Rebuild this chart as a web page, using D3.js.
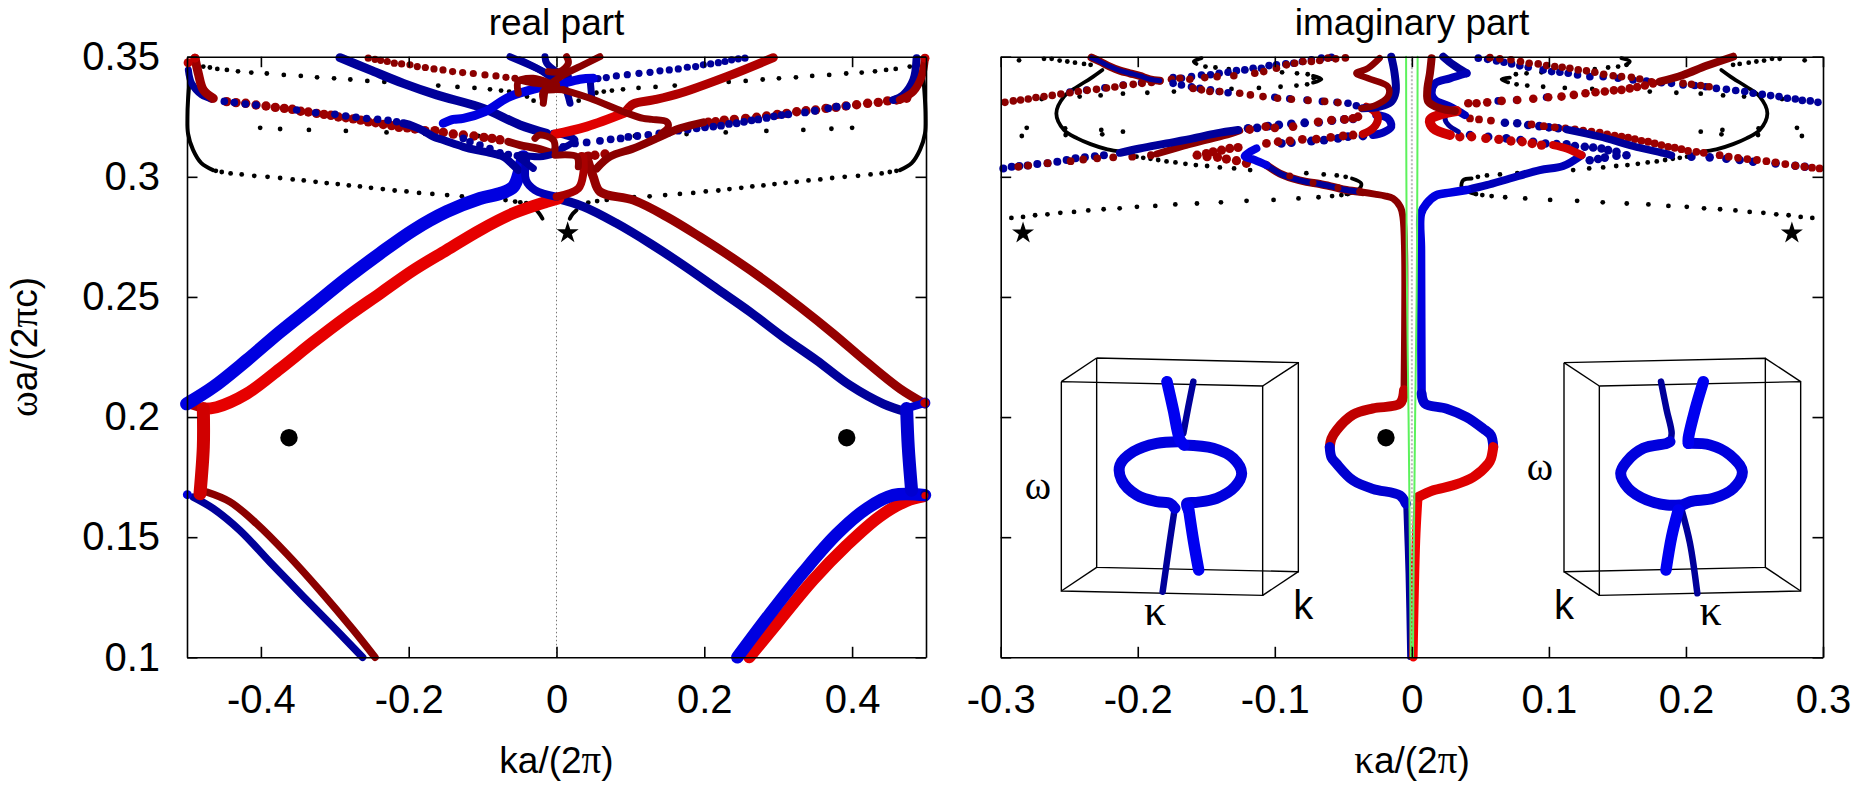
<!DOCTYPE html>
<html lang="en">
<head>
<meta charset="UTF-8">
<title>real and imaginary part</title>
<script src="https://d3js.org/d3.v7.min.js"></script>
<style>
  html, body { margin: 0; padding: 0; background: #fff; }
  svg { display: block; }
  text { font-family: "Liberation Sans", sans-serif; fill: #000; }
  .greek { font-family: "Liberation Serif", serif; }
</style>
</head>
<body>
<svg id="chart" width="1856" height="785"></svg>
<script>
// tick labels
const realKTicks = [-0.4, -0.2, 0, 0.2, 0.4];
const imagKTicks = [-0.3, -0.2, -0.1, 0, 0.1, 0.2, 0.3];
const omegaTicks = [0.1, 0.15, 0.2, 0.25, 0.3, 0.35];

// ---------- left panel, [ka/2pi, wa/2pic]
const realBlackLow = [[-.461,.3025],[-.453,.302],[-.441,.3014],[-.426,.301],[-.409,.3004],[-.391,.3],[-.374,.2995],[-.357,.2989],[-.342,.2985],[-.326,.2979],[-.311,.2974],[-.296,.297],[-.281,.2964],[-.266,.296],[-.251,.2954],[-.235,.2949],[-.219,.2943],[-.203,.2939],[-.186,.2933],[-.168,.2929],[-.148,.2924],[-.128,.2919],[-.107,.2915],[-.069,.2903],[-.056,.2897],[-.049,.2894],[-.041,.289],[-.034,.2879],
  [.033,.2879],[.043,.2893],[.055,.2899],[.068,.2904],[.105,.2915],[.126,.2919],[.147,.2924],[.167,.2929],[.185,.2933],[.202,.2939],[.219,.2943],[.234,.2949],[.25,.2954],[.265,.296],[.28,.2964],[.295,.297],[.31,.2975],[.325,.2979],[.341,.2985],[.357,.2989],[.373,.2995],[.39,.3],[.408,.3004],[.425,.301],[.44,.3014],[.451,.302],[.46,.3025]];
const realBlackHigh = [[-.478,.3459],[-.469,.3455],[-.459,.3449],[-.446,.3445],[-.431,.3439],[-.413,.3434],[-.392,.343],[-.369,.3424],[-.346,.342],[-.324,.3414],[-.301,.341],[-.279,.3405],[-.256,.3399],[-.233,.3395],[-.21,.3389],[-.16,.338],[-.134,.3374],[-.111,.337],[-.09,.3364],[-.075,.3359],[-.064,.3355],[-.055,.335],[-.04,.3334],[-.031,.3317],
  [.03,.3317],[.0385,.3334],[.054,.335],[.064,.3355],[.075,.3359],[.09,.3364],[.111,.337],[.134,.3374],[.16,.338],[.21,.3389],[.233,.3395],[.256,.3399],[.279,.3405],[.301,.341],[.324,.3414],[.346,.342],[.369,.3424],[.392,.343],[.413,.3434],[.431,.3439],[.446,.3445],[.459,.3449],[.478,.3459]];
const realBlackMid = [[-.401,.3204],[-.374,.3199],[-.335,.3195],[-.285,.3191],[-.23,.3185],[-.178,.3179],[-.106,.317],[.106,.317],[.176,.3178],[.229,.3185],[.284,.3191],[.334,.3195],[.372,.32],[.4,.3204]];
const realBlackEdgeL = [[-.4959,.3417],[-.4986,.332],[-.4994,.325],[-.4986,.318],[-.4918,.3112],[-.4806,.3057],[-.4648,.3028]];
const realBlackEdgeR = [[.4963,.3417],[.4986,.332],[.4994,.325],[.4986,.318],[.4918,.3112],[.4806,.3057],[.4648,.3028]];
const realBlackArcL = [[-.027,.2861],[-.023,.2846],[-.019,.2826]];
const realBlackArcR = [[.027,.2861],[.022,.2846],[.018,.2826]];

const realBlueUp = [[-.5005,.2055],[-.4644,.2125],[-.4193,.2236],[-.3742,.2354],[-.3291,.2465],[-.284,.2577],[-.2389,.2681],[-.1938,.2778],[-.1487,.2855],[-.1036,.291],[-.075,.2932],[-.0585,.2958],[-.0495,.3028],[-.045,.3084]];
const realRedUp = [[-.4779,.2035],[-.4599,.2041],[-.4193,.2097],[-.3742,.2201],[-.3291,.2312],[-.284,.2417],[-.2389,.2514],[-.1938,.2611],[-.1487,.2695],[-.1036,.2778],[-.0585,.2848],[-.0134,.2896],[.0024,.291]];
const realNavyDown = [[.0002,.291],[.0363,.2876],[.0814,.2806],[.1265,.2723],[.1716,.2632],[.2167,.2535],[.2618,.2438],[.3069,.2333],[.352,.2236],[.3971,.2132],[.4422,.2055],[.4738,.2021]];
const realMaroonDown = [[.0408,.3084],[.0498,.3],[.0589,.2938],[.104,.2903],[.1491,.2834],[.1942,.275],[.2393,.266],[.2844,.2563],[.3295,.2458],[.3746,.2347],[.4197,.2229],[.4648,.2118],[.4986,.2055]];
const realGapLeft = [[-.4779,.2036],[-.4779,.1876],[-.4824,.1681]];
const realGapRight = [[.4738,.2036],[.476,.1876],[.4805,.1695]];
const realRedCapL = [[-.4779,.2036],[-.5,.2057]];
const realBlueCapR = [[.4738,.2036],[.4986,.2059]];
const realNavyLow = [[-.4914,.1667],[-.4644,.1619],[-.4283,.1528],[-.3877,.1396],[-.3426,.1253],[-.2975,.1112],[-.2623,.1]];
const realMaroonLow = [[-.4734,.1688],[-.4418,.1647],[-.4057,.1556],[-.3651,.1431],[-.3201,.1278],[-.275,.1114],[-.2456,.1]];
const realBlueLow = [[.2447,.1],[.2889,.1181],[.334,.1355],[.3791,.1512],[.4197,.1619],[.4557,.1675],[.4986,.1675]];
const realRedLow = [[.2609,.1],[.3024,.1156],[.3475,.1323],[.3926,.1466],[.4377,.1587],[.4738,.1651],[.4963,.167]];

const realNavyCross = [[-.293,.3496],[-.2524,.3445],[-.2073,.3389],[-.1622,.3341],[-.099,.3285],[-.0495,.3216],[-.0134,.3181]];
const realBlueCross = [[-.1532,.3223],[-.1397,.3239],[-.1261,.3243],[-.0968,.3271],[-.063,.3334],[-.0044,.3382],[.0002,.3382],[.0318,.3406],[.0498,.341]];
const realMaroonCross = [[.2934,.3496],[.2302,.3417],[.1671,.3348],[.131,.332],[.1039,.3303],[.0927,.3267]];
const realRedCross = [[.0927,.3267],[.0408,.3209],[-.002,.3178]];
const realMaroonBend = [[.0092,.3362],[.0453,.3327],[.0904,.3271],[.1175,.3243],[.1288,.3239],[.149,.3229],[.1513,.3209],[.1423,.3181]];
const realMaroonRise = [[.0543,.3035],[.0724,.3084],[.1039,.3118],[.1355,.316],[.1671,.3202],[.1987,.3227]];
const realMaroonLeftLow = [[-.0652,.3146],[-.0495,.3132],[-.0269,.3118],[-.0044,.3097]];
const realNavyRise = [[-.2073,.3223],[-.1938,.3211],[-.1803,.3192],[-.1667,.3167],[-.1532,.3153],[-.1397,.3139],[-.1261,.3125],[-.1081,.3111],[-.0901,.31],[-.072,.3084],[-.0585,.3049],[-.0517,.3028]];
const realNavyBridge = [[-.0404,.3084],[-.0413,.2986],[-.0292,.2945],[0,.2917]];
const realRedBridge = [[.0002,.2917],[.0295,.2951],[.0363,.3014],[.0363,.3084]];
const realEdgeMaroonL = [[-.4892,.3494],[-.4847,.3431],[-.4779,.3362],[-.4644,.3327]];
const realEdgeNavyL = [[-.4982,.3445],[-.4937,.3389],[-.4802,.3341],[-.4666,.3325]];
const realEdgeMaroonR = [[.4647,.332],[.4828,.3355],[.494,.3417],[.4986,.3494]];
const realEdgeNavyR = [[.4557,.332],[.4693,.3341],[.4828,.3403],[.4873,.3494]];

const realCentreNavy = [
  [[-.0156,.35],[-.0133,.3473],[.0002,.3438],[.016,.3417]],
  [[-.0494,.3487],[-.0223,.3445],[.0002,.3396],[.0115,.3368],[.0183,.3306]],
  [[.0453,.341],[.0476,.3334]],
  [[-.063,.35],[-.0269,.3452],[0,.341]],
  [[-.002,.3104],[.025,.3153],[.0092,.3174],[-.0043,.3181]],
  [[-.0494,.3091],[-.0223,.3084],[-.002,.3097]],
  [[-.0494,.3077],[-.0314,.3035]]];
const realCentreMaroon = [
  [[.0137,.35],[.016,.3473],[.0047,.3438],[-.0111,.3438]],
  [[.0588,.35],[.0363,.3466],[.0092,.3424],[-.0133,.3375]],
  [[-.0494,.3403],[-.0269,.3389],[.0002,.3382]],
  [[-.0178,.332],[-.0178,.3355],[.0092,.3362]],
  [[-.0517,.3348],[-.0517,.3396],[-.0314,.341],[-.0089,.3389]],
  [[-.0179,.3306],[-.0156,.3362]],
  [[-.0291,.316],[-.0223,.3174],[-.0043,.3153],[-.002,.3111]],
  [[-.002,.309],[.0273,.3084],[.0295,.3042]]];

const realMaroonDotsTop = [[-.2547,.3494],[-.2456,.3489],[-.238,.3485],[-.229,.348],[-.2195,.3473],[-.2096,.347],[-.1983,.3466],[-.1884,.3459],[-.1775,.3455],[-.1658,.3449],[-.1536,.3445],[-.1406,.3438],[-.127,.3434],[-.1126,.343],[-.0968,.3424],[-.0819,.342],[-.0684,.3414],[-.0562,.341]];
const realNavyDotsTop = [[.255,.3494],[.246,.3491],[.237,.3487],[.228,.348],[.219,.3475],[.2086,.347],[.1987,.3466],[.1883,.3459],[.177,.3456],[.1648,.3449],[.1526,.3445],[.14,.3441],[.1265,.3435],[.1116,.3431],[.0958,.3425],[.081,.342],[.0674,.3413],[.0561,.3409]];
const realMaroonDotsR = [[.2054,.3227],[.2153,.3229],[.227,.3236],[.2406,.3239],[.2559,.3243],[.2708,.3248],[.2843,.3253],[.2988,.326],[.3114,.3264],[.325,.3271],[.3376,.3275],[.3506,.3278],[.3646,.3285],[.3782,.3289],[.3917,.3295],[.4061,.33],[.421,.3306],[.4354,.331],[.448,.3316],[.4602,.332],[.4738,.3327],[.034,.3084],[.043,.3086],[.052,.309],[.0656,.3095]];
const realNavyDotsR = [[-.002,.3111],[.0092,.3125],[.025,.3139],[.0408,.3143],[.0588,.315],[.0733,.3156],[.0868,.316],[.0972,.3166],[.1094,.317],[.1242,.3175],[.1391,.3181],[.1522,.3184],[.1648,.3192],[.1775,.3197],[.1896,.3202],[.2009,.3206],[.2122,.3209],[.2226,.3213],[.2334,.322],[.2438,.3223],[.2537,.3229],[.264,.3235],[.2731,.3239],[.2843,.3245],[.2943,.3252],[.3046,.3257],[.3137,.326],[.3362,.3268],[.3497,.3275],[.3678,.3285],[.379,.3292],[.3926,.3295]];
const realMaroonDotsL = [[-.4666,.3327],[-.4463,.3313],[-.4337,.3309],[-.4206,.3306],[-.4066,.3299],[-.3931,.3295],[-.3805,.3289],[-.3683,.3285],[-.3575,.3281],[-.3462,.3273],[-.3358,.327],[-.3246,.3264],[-.3146,.326],[-.3052,.3256],[-.2952,.3249],[-.2849,.3246],[-.275,.3241],[-.265,.3236],[-.2547,.3229],[-.2447,.3225],[-.2344,.3218],[-.2231,.3213],[-.2132,.3206],[-.2019,.3204],[-.1915,.3199],[-.178,.3192],[-.1645,.3192],[-.1532,.3185],[-.1397,.3178],[-.1261,.3174],[-.1117,.317],[-.0982,.3164],[-.0873,.316],[-.0765,.3154]];
const realNavyDotsL = [[-.4495,.3314],[-.436,.3309],[-.421,.3303],[-.4066,.3299],[-.3516,.3278],[-.3259,.3267],[-.2998,.326],[-.2853,.3253],[-.2713,.3248],[-.2569,.3243],[-.242,.3239],[-.228,.3235],[-.2163,.3229],[-.1261,.316],[-.1171,.3146],[-.1036,.3132],[-.0901,.3118],[-.0765,.31],[-.0652,.3093],[-.053,.3088]];

// filled circles and stars marked on the panels
const realCircles = [[-.362,.1914],[.3927,.1914]];
const realStar = [[.0151,.2767]];
const imagCircle = [[-.0189,.1914]];
const imagStars = [[-.2837,.2766],[.2773,.2766]];

// ---------- right panel, [kappa a/2pi, wa/2pic]
const imagBlackLow = [[.0468,.2928],[.0514,.2924],[.0582,.292],[.0681,.2915],[.0827,.291],[.1009,.2904],[.1206,.29],[.1393,.2894],[.1568,.2889],[.1726,.2885],[.1872,.2879],[.2006,.2875],[.2132,.2869],[.2249,.2865],[.2361,.286],[.2465,.2854],[.2565,.285],[.2659,.2844],[.2749,.284],[.2837,.2833],[.2922,.2829],
  [-.0468,.2928],[-.0514,.2924],[-.0582,.292],[-.0681,.2915],[-.0827,.291],[-.1009,.2904],[-.1206,.29],[-.1393,.2894],[-.1568,.2889],[-.1726,.2885],[-.1872,.2879],[-.2006,.2875],[-.2132,.2869],[-.2249,.2865],[-.2361,.286],[-.2465,.2854],[-.2565,.285],[-.2659,.2844],[-.2749,.284],[-.2837,.2833],[-.2922,.2829]];
const imagBlackRow2 = [[.1177,.3028],[.1294,.3035],[.1396,.3039],[.1491,.3045],[.1573,.3049],[.1649,.3054],[.1721,.306],[.1787,.3064],[.1848,.307],[.1904,.3075],[.1955,.3079],[.2008,.3084],
  [-.2009,.3084],[-.196,.3079],[-.1907,.3075],[-.1851,.307],[-.179,.3064],[-.1725,.306],[-.1652,.3054],[-.1576,.3049],[-.1494,.3045],[-.1401,.3039],[-.1297,.3035],[-.118,.3028]];
const imagBlackRow3 = [[.0764,.3385],[.0842,.338],[.0958,.3375],[.1116,.337],[.1316,.3366],[.1736,.3355],[.193,.335],[.2108,.3346],[.2271,.3339],[.2424,.3334],[.2701,.3324],
  [-.0764,.3385],[-.0842,.338],[-.0958,.3375],[-.1116,.337],[-.1316,.3366],[-.1736,.3355],[-.193,.335],[-.2108,.3346],[-.2271,.3339],[-.2424,.3334],[-.2701,.3324]];
const imagBlackRow4 = [[.1566,.3466],[.1505,.3459],[.1432,.3455],[.1335,.3448],[.1209,.3445],[.1075,.3441],[.0946,.3435],[.0837,.3431],[.0759,.3427],
  [-.1506,.3459],[-.1433,.3455],[-.1336,.3448],[-.1209,.3445],[-.1076,.3441],[-.0947,.3435],[-.0838,.3431],[-.076,.3427],[-.0716,.341]];
const imagBlackCorner = [[.2344,.3466],[.2392,.347],[.2458,.3475],[.2514,.348],[.257,.3484],[.2628,.3491],[.2684,.3491],[.2866,.3485],
  [-.2344,.3466],[-.2392,.347],[-.2458,.3475],[-.2514,.348],[-.257,.3484],[-.2628,.3491],[-.2684,.3491],[-.2866,.3485]];
const imagBlackPairs = [[.2108,.3188],[.2266,.3195],[.2259,.3177],[.253,.3202],[.2526,.3174],[.281,.3204],[.2846,.317],
  [-.2108,.3188],[-.2266,.3195],[-.2259,.3177],[-.253,.3202],[-.2526,.3174],[-.281,.3204],[-.2846,.317]];
const imagBlackInner = [[.0482,.3],[.0548,.3006],[.0643,.301],[.0769,.3015],[-.0483,.3],[-.0548,.3006],[-.0643,.301],[-.077,.3015]];
const imagBlackCurves = [
  [[.2258,.3445],[.2344,.341],[.2441,.3375],[.2538,.3334],[.2594,.3264],[.2538,.3195],[.2441,.316],[.2344,.3136],[.2222,.3114],[.2113,.3104]],
  [[-.2258,.3445],[-.2344,.341],[-.2441,.3375],[-.2538,.3334],[-.2594,.3264],[-.2538,.3195],[-.2441,.316],[-.2344,.3136],[-.2222,.3114],[-.2113,.3104]],
  [[.0436,.2993],[.0375,.2986],[.0363,.2958],[.0412,.2938],[.0468,.2928]],
  [[-.0437,.2993],[-.0369,.2972],[-.0393,.2945],[-.0478,.2928]],
  [[.1529,.3494],[.159,.348],[.1566,.3466]],
  [[-.1535,.3494],[-.1591,.348],[-.1571,.347]],
  [[.0715,.3413],[.0655,.3406],[.0703,.3393]],
  [[-.0721,.342],[-.066,.3406],[-.0721,.3392]]];

const ovalRedTop = [[-.0599,.1875],[-.0587,.191],[-.055,.1945],[-.0429,.201],[-.0283,.2036],[-.0087,.2056],[-.0057,.2112]];
const ovalBlueBottom = [[-.0599,.1875],[-.0587,.1833],[-.055,.1806],[-.0429,.1736],[-.0283,.1701],[-.0087,.1674],[-.0043,.1639]];
const ovalBlueTop = [[.0071,.2098],[.0096,.2056],[.0254,.2035],[.0399,.2],[.052,.1952],[.0577,.1924],[.0594,.1875]];
const ovalRedBottom = [[.0594,.1875],[.0577,.1826],[.0558,.1806],[.0448,.175],[.0302,.1716],[.0157,.1695],[.0047,.1667]];
const stemNavy = [[-.0043,.1639],[-.0026,.1347],[-.0014,.1]];
const stemRed = [[.0047,.1667],[.003,.1486],[.0011,.1]];

const imagBlueRise = [[.0071,.2098],[.0067,.2694],[.0067,.2847],[.0108,.2889],[.018,.2924],[.0278,.2934],[.0399,.2945]];
const imagNavyRise = [[.0399,.2945],[.0545,.2965],[.0715,.2993],[.0934,.3028],[.1104,.3045],[.1238,.309]];
const imagRedTurn = [[.1238,.309],[.1129,.3118],[.1031,.3132]];
const imagRedLoop = [[.0278,.3174],[.0157,.3202],[.0132,.3236],[.0217,.3261],[.0327,.3274]];
const imagNavyLoop = [[.0339,.3188],[.0266,.3216],[.0242,.3243],[.0266,.3271]];
const imagMaroonTopR = [[.0144,.3494],[.0132,.3431],[.0113,.3362],[.012,.3313],[.0205,.3285],[.0314,.3274]];
const imagNavyTopR = [[.0229,.35],[.0302,.3466],[.0399,.3431]];
const imagBlueTopR = [[.0399,.3431],[.0278,.341],[.0169,.3389],[.0144,.3348],[.0169,.332],[.0278,.3292],[.0387,.3257]];
const imagMaroonEnd = [[.1809,.3396],[.1979,.3424],[.2149,.3462],[.2344,.35]];
const imagNavyThickR = [[.1129,.3197],[.1371,.3167],[.1614,.3128],[.1858,.3095],[.1894,.3089]];
const imagNavyThickL = [[-.213,.31],[-.1985,.3118],[-.179,.3139],[-.1596,.316],[-.1426,.3181],[-.1268,.3195]];
const imagMaroonThickL = [[-.1863,.3095],[-.1669,.3128],[-.1499,.3153],[-.1329,.3178],[-.1256,.3192]];
const imagBlueTurn = [[-.1134,.3118],[-.122,.3086],[-.1146,.307],[-.1061,.3049]];
const imagNavyFall = [[-.1061,.3049],[-.0964,.3014],[-.0867,.2993],[-.077,.2979],[-.0672,.297],[-.0575,.2958],[-.0478,.2945],[-.0381,.2938]];
const imagMaroonFall = [[-.0381,.2938],[-.0271,.2928],[-.0199,.2921],[-.0138,.291],[-.0084,.2875],[-.0065,.2833],[-.0053,.2694],[-.0057,.2112]];
const imagRedThickL = [[-.0357,.3178],[-.0283,.3202],[-.0247,.3243],[-.0271,.3271],[-.0332,.3292]];
const imagBlueThickL = [[-.0284,.3174],[-.0211,.3184],[-.015,.3209],[-.0174,.3243],[-.026,.3257]];
const imagNavyTopL = [[-.015,.35],[-.0126,.3431],[-.0118,.3355],[-.015,.3313],[-.0235,.3292],[-.0357,.3285]];
const imagMaroonTopL = [[-.0235,.3494],[-.032,.3452],[-.0405,.3431],[-.032,.341],[-.0174,.3375],[-.0174,.3334],[-.026,.3299],[-.0369,.3285]];
const imagFallTopL = [[-.2337,.3496],[-.2276,.348],[-.2203,.3459],[-.213,.3442],[-.2058,.3431],[-.1985,.342],[-.1912,.3406],[-.1839,.34]];
const greenLeft = [[-.0042,.35],[-.004,.3],[-.0035,.25],[-.0024,.2],[-.0015,.15],[-.0008,.1]];
const greenRight = [[.0042,.35],[.004,.3],[.0035,.25],[.0024,.2],[.0015,.15],[.0008,.1]];

const imagNavyDotsTurn = [[.1298,.3069],[.1359,.3074],[.1408,.308],[.1493,.3088],[.1566,.309],[.1493,.3104],[.1432,.3111],[.1384,.3118],[.1323,.3122],[.1262,.3125],[.119,.3128],[.1129,.3135],[.1056,.3136],[.0975,.3139],[.0885,.3146],[.0793,.3153],[.069,.316],[.0557,.3167],[.0424,.3174]];
const imagMaroonDotsTurn = [[.0946,.3132],[.0878,.3139],[.0805,.3146],[.0723,.3149],[.0635,.3156],[.054,.316],[.0436,.3167],[.035,.3167]];
const imagMaroonDotsRise = [[.0412,.3306],[.0472,.3306],[.055,.331],[.0655,.3316],[.0769,.332],[.0886,.3325],[.0995,.3331],[.1092,.3334],[.1182,.3341],[.1267,.3348],[.134,.3352],[.1408,.3355],[.1474,.336],[.153,.3362],[.159,.3368],[.1644,.3374],[.17,.338],[.176,.3389]];
const imagNavyDotsRise = [[.063,.3316],[.0764,.332],[.0983,.3331]];
const imagNavyDotsTopR = [[.0485,.3494],[.0553,.3489],[.0618,.3482],[.0672,.3477],[.0728,.347],[.0788,.3462],[.0849,.3456],[.0958,.3445],[.102,.3438],[.108,.3435],[.1141,.3431],[.1209,.3424],[.1299,.3417],[.1396,.3417],[.1505,.341],[.1614,.3403],[.1712,.3399],[.1821,.3392],[.1894,.3389],[.1979,.3382],[.2064,.338],[.2144,.3375],[.2222,.3368],[.2295,.3364],[.2363,.3359],[.2429,.3355],[.249,.3348],[.2557,.3343],[.2618,.3338],[.2679,.3334],[.274,.3327],[.2798,.3324],[.2849,.3318],[.2907,.3316],[.2963,.331]];
const imagMaroonDotsTopR = [[.057,.3496],[.0642,.3491],[.0723,.3487],[.0793,.348],[.0856,.3473],[.0922,.347],[.0983,.3463],[.1043,.3459],[.1097,.3456],[.1153,.3452],[.1214,.3445],[.1274,.3441],[.1335,.3435],[.14,.3427],[.1469,.3421],[.153,.3417],[.1602,.3414],[.1663,.3407],[.1748,.3396],[.1979,.3389],[.204,.3385],[.2108,.338],[.2169,.3375]];
const imagNavyDotsC = [[.0679,.3225],[.0769,.3223],[.0849,.3216],[.093,.3211],[.1,.3206],[.1068,.3202],[.204,.3084],[.2173,.3081],[.2295,.3075],[.2392,.307],[.249,.3063],[.2654,.3056],[.2798,.3046],[.2868,.3042]];
const imagMaroonDotsC = [[.0424,.3243],[.049,.3239],[.0577,.3234],[.0873,.3218],[.0963,.3211],[.1043,.3206],[.1121,.3202],[.119,.3197],[.125,.3192],[.1311,.3188],[.1371,.3184],[.1425,.3177],[.148,.3171],[.153,.3167],[.1578,.3163],[.1627,.3157],[.1675,.315],[.1724,.3146],[.1772,.3139],[.1821,.3132],[.187,.3125],[.1918,.3121],[.1967,.3115],[.2015,.3108],[.2076,.3104],[.213,.31],[.2246,.309],[.2312,.3084],[.238,.3079],[.2448,.3074],[.2518,.307],[.2587,.3065],[.2654,.306],[.2725,.3053],[.2798,.3046],[.2864,.3042],[.292,.3038],[.2975,.3035]];

const imagMaroonDotsLowL = [[-.2872,.3042],[-.2799,.3047],[-.2658,.3057],[-.249,.3065],[-.2398,.3072],[-.2296,.3077],[-.2179,.3081],[-.204,.3084],[-.1904,.309]];
const imagNavyDotsLowL = [[-.2981,.3035],[-.292,.3042],[-.2864,.3045],[-.2804,.3047],[-.2733,.3053],[-.2658,.3057],[-.2587,.3063],[-.2519,.307],[-.2454,.3077],[-.2386,.3081],[-.2313,.3086],[-.2247,.309]];
const imagNavyDotsMidL = [[-.1195,.3202],[-.1129,.3204],[-.1049,.3211],[-.0971,.3216],[-.0879,.322],[-.0782,.3225],[-.068,.3227],[-.0583,.3234],[-.0493,.3239],[-.0429,.3241],[-.0952,.3139],[-.0879,.3142],[-.0733,.3149],[-.0641,.3153],[-.0539,.316],[-.0466,.3167],[-.0357,.317]];
const imagMaroonDotsMidL = [[-.1183,.3197],[-.1066,.3209],[-.1,.3204],[-.0867,.3209],[-.0684,.3229],[-.0587,.3236],[-.049,.3239],[-.0429,.3243],[-.0393,.325],[-.1061,.3139],[-.0976,.3146],[-.089,.315],[-.0799,.3156],[-.0697,.3157],[-.0592,.3164],[-.0502,.317],[-.0429,.3174]];
const imagRedDotsTurnL = [[-.1567,.309],[-.1499,.3097],[-.145,.3104],[-.1389,.3111],[-.1329,.3118],[-.1268,.3122],[-.1494,.3084],[-.1418,.3081],[-.1353,.3074],[-.128,.3067],[-.1207,.3056]];
const imagMaroonDotsFall = [[-.0891,.3003],[-.0721,.2975],[-.0539,.2954],[-.0357,.2934]];
const imagNavyDotsHighL = [[-.1742,.3389],[-.1681,.3382],[-.1608,.3375],[-.1547,.3368],[-.1469,.3362],[-.1406,.3355],[-.1341,.335],[-.1,.3331],[-.0891,.3325],[-.0765,.332],[-.0653,.3314],[-.0546,.331],[-.0466,.3306],[-.0405,.3296]];
const imagMaroonDotsHighL = [[-.1596,.3368],[-.1535,.3362],[-.1474,.3355],[-.1401,.3355],[-.1256,.3348],[-.1178,.3341],[-.1086,.3334],[-.098,.3327],[-.0879,.3323],[-.0757,.3318],[-.0636,.3314],[-.0539,.3309]];
const imagMaroonDotsUpL = [[-.2969,.331],[-.2908,.3316],[-.2855,.332],[-.2799,.3324],[-.2743,.333],[-.2684,.3334],[-.2624,.3339],[-.2561,.3345],[-.2495,.335],[-.2434,.3355],[-.2369,.336],[-.2301,.3364],[-.2228,.337],[-.2167,.3374],[-.2106,.3381],[-.2033,.3385],[-.1968,.3389],[-.19,.3393],[-.1839,.34],[-.1754,.3406],[-.1693,.341],[-.162,.3406],[-.1511,.3413],[-.1421,.3417],[-.1299,.3421],[-.1146,.3431],[-.1081,.3438],[-.0988,.3452],[-.0915,.3466],[-.0855,.3473],[-.0794,.348],[-.0733,.348],[-.0672,.3484],[-.0612,.3494],[-.0556,.3491],[-.0485,.3495]];
const imagNavyDotsUpL = [[-.2495,.3353],[-.2373,.3361],[-.224,.3371],[-.2106,.3382],[-.1972,.3392],[-.1742,.3413],[-.1681,.341],[-.1608,.3417],[-.1535,.3424],[-.1469,.3425],[-.1406,.3431],[-.1341,.3435],[-.128,.3442],[-.1219,.3445],[-.1158,.3452],[-.1098,.3452],[-.1042,.3463],[-.0988,.3466],[-.092,.347],[-.0862,.3473],[-.0799,.348],[-.0733,.3487],[-.066,.3494],[-.0587,.3498]];

// ---------- 3d box insets, coordinates of the inset picture
const insetLeftBox = [[[64,125],[668,138],[668,766],[64,753],[64,125]],[[170,54],[775,68],[775,695],[170,682],[170,54]],[[64,125],[170,54]],[[668,138],[775,68]],[[668,766],[775,695]],[[64,753],[170,682]]];
const insetLeftOval = [[[415,305],[350,310],[280,335],[240,375],[245,420],[290,465],[350,485],[390,490],[405,505]],[[432,315],[520,325],[580,355],[605,400],[585,440],[530,475],[470,487],[440,490],[445,510]]];
const insetLeftThin = [[[460,125],[445,200],[430,280]],[[405,500],[390,600],[368,755]]];
const insetLeftThick = [[[381,125],[400,210],[420,300],[432,315]],[[445,500],[460,600],[476,690]]];
const insetRightBox = [[[658,138],[1262,125],[1262,753],[658,766],[658,138]],[[552,68],[1156,55],[1156,682],[552,695],[552,68]],[[552,68],[658,138]],[[1156,55],[1262,125]],[[1156,682],[1262,753]],[[552,695],[658,766]]];
const insetRightOval = [[[870,305],[860,310],[790,325],[740,365],[722,400],[745,445],[800,480],[860,495],[900,495]],[[925,310],[990,315],[1050,345],[1087,395],[1060,445],[1000,475],[930,485],[900,500]]];
const insetRightThin = [[[843,125],[860,210],[875,280],[870,305]],[[905,510],[930,610],[952,760]]];
const insetRightThick = [[[970,125],[945,210],[925,295],[925,310]],[[895,510],[875,590],[858,690]]];

// ---------- colours
const BLUE = "#0000e0", MIDBLUE = "#0000b8", NAVY = "#00009a", RED = "#e60000", MIDRED = "#c00000", DOTRED = "#9c0000", MAROON = "#8b0000";

const svg = d3.select("#chart");

function panel(kDomain, xRange) {
  return {
    x: d3.scaleLinear().domain(kDomain).range(xRange),
    y: d3.scaleLinear().domain([0.1, 0.35]).range([657.3, 56.7])
  };
}
const realPanel = panel([-0.5, 0.5], [187, 926]);
const imagPanel = panel([-0.3, 0.3], [1000.7, 1823]);

function stroke(p, pts, color, width) {
  const path = d3.line().x(d => p.x(d[0])).y(d => p.y(d[1])).curve(d3.curveCatmullRom.alpha(0.5));
  svg.append("path").attr("d", path(pts)).attr("fill", "none").attr("stroke", color)
    .attr("stroke-width", width).attr("stroke-linecap", "round").attr("stroke-linejoin", "round");
}
function dots(p, pts, color, r) {
  svg.append("g").selectAll("circle").data(pts).join("circle")
    .attr("cx", d => p.x(d[0])).attr("cy", d => p.y(d[1])).attr("r", r).attr("fill", color);
}
function stars(p, pts) {
  svg.append("g").selectAll("path").data(pts).join("path")
    .attr("d", d3.symbol(d3.symbolStar, 150))
    .attr("transform", d => `translate(${p.x(d[0])},${p.y(d[1])})`).attr("fill", "#000");
}
function frame(p, kTicks, showOmega) {
  const axes = [
    [d3.axisBottom(p.x).tickValues(kTicks).tickFormat(String), `translate(0,${p.y(0.1)})`, true],
    [d3.axisTop(p.x).tickValues(kTicks), `translate(0,${p.y(0.35)})`, false],
    [d3.axisLeft(p.y).tickValues(omegaTicks).tickFormat(String), `translate(${p.x.range()[0]},0)`, showOmega],
    [d3.axisRight(p.y).tickValues(omegaTicks), `translate(${p.x.range()[1]},0)`, false]
  ];
  axes.forEach(([axis, tr, labels]) => {
    const g = svg.append("g").attr("transform", tr)
      .call(axis.tickSize(-10.5).tickSizeOuter(0).tickPadding(27));
    g.selectAll("path, line").attr("stroke", "#000").attr("stroke-width", 1.6);
    const t = g.selectAll("text").attr("font-size", 40).attr("font-family", "Liberation Sans");
    if (!labels) t.remove();
  });
}

// ---------- real part
const rp = realPanel;
svg.append("line").attr("x1", rp.x(0)).attr("x2", rp.x(0)).attr("y1", rp.y(0.1)).attr("y2", rp.y(0.35))
  .attr("stroke", "#777").attr("stroke-width", 1).attr("stroke-dasharray", "1.5,2.5");
[realBlackLow, realBlackHigh, realBlackMid].forEach(d => dots(rp, d, "#000", 2.4));
[realBlackEdgeL, realBlackEdgeR, realBlackArcL, realBlackArcR].forEach(d => stroke(rp, d, "#000", 4));

stroke(rp, realMaroonLow, MAROON, 7.5);
stroke(rp, realNavyLow, NAVY, 7.5);
dots(rp, [[-.4995,.1677]], BLUE, 4.5);
stroke(rp, realMaroonDown, "#950000", 9);
stroke(rp, realNavyDown, NAVY, 9);
stroke(rp, realRedCapL, "#b80000", 9);
stroke(rp, realRedUp, RED, 12);
stroke(rp, realGapLeft, "#d00000", 13);
stroke(rp, realBlueUp, BLUE, 13);
stroke(rp, realRedLow, RED, 12);
stroke(rp, realBlueLow, BLUE, 12.5);
stroke(rp, realBlueCapR, "#0000d0", 8);
stroke(rp, realGapRight, "#0000d0", 13);
dots(rp, [[.4985,.1679]], NAVY, 4.5);
dots(rp, [[.4985,.1674]], RED, 3.5);
dots(rp, [[.4985,.2059]], BLUE, 5.5);
dots(rp, [[.4985,.2059]], "#c00000", 4.5);

dots(rp, realMaroonDotsTop, MAROON, 3.6);
dots(rp, realNavyDotsTop, NAVY, 3.6);
dots(rp, realMaroonDotsL, DOTRED, 4.7);
dots(rp, realNavyDotsL, NAVY, 3.8);
dots(rp, realMaroonDotsR, DOTRED, 4.7);
dots(rp, realNavyDotsR, NAVY, 3.9);
stroke(rp, realEdgeNavyL, NAVY, 7);
stroke(rp, realEdgeMaroonL, DOTRED, 9);
dots(rp, [[-.4985,.3475],[-.4892,.3494]], MIDRED, 4.5);
stroke(rp, realEdgeNavyR, NAVY, 8);
stroke(rp, realEdgeMaroonR, DOTRED, 8);
dots(rp, [[.4986,.3494]], MIDRED, 4.5);
stroke(rp, realNavyRise, NAVY, 8);
stroke(rp, realNavyBridge, MIDBLUE, 8);
stroke(rp, realRedBridge, "#a80000", 8);
stroke(rp, realMaroonRise, MAROON, 8);
stroke(rp, realMaroonLeftLow, MAROON, 8);
realCentreNavy.forEach(d => stroke(rp, d, NAVY, 7));
stroke(rp, realNavyCross, NAVY, 9);
stroke(rp, realBlueCross, BLUE, 9);
stroke(rp, realMaroonCross, "#b00000", 9);
stroke(rp, realRedCross, "#e00000", 9.5);
stroke(rp, realMaroonBend, MAROON, 7);
realCentreMaroon.forEach(d => stroke(rp, d, MAROON, 7));
dots(rp, realCircles, "#000", 8.7);
stars(rp, realStar);

// ---------- imaginary part
const ip = imagPanel;
[imagBlackLow, imagBlackRow2, imagBlackRow3, imagBlackRow4, imagBlackCorner, imagBlackPairs, imagBlackInner].forEach(d => dots(ip, d, "#000", 2.4));
imagBlackCurves.forEach(d => stroke(ip, d, "#000", 3.8));

dots(ip, imagNavyDotsLowL, NAVY, 4);
dots(ip, imagMaroonDotsLowL, MAROON, 3.9);
dots(ip, imagNavyDotsMidL, NAVY, 4.4);
dots(ip, imagMaroonDotsMidL, DOTRED, 4.4);
dots(ip, imagRedDotsTurnL, DOTRED, 4.6);
dots(ip, imagNavyDotsUpL, NAVY, 3.8);
dots(ip, imagMaroonDotsUpL, MAROON, 3.8);
dots(ip, imagNavyDotsHighL, NAVY, 3.8);
dots(ip, imagMaroonDotsHighL, MAROON, 3.8);
stroke(ip, imagMaroonThickL, MAROON, 7);
stroke(ip, imagNavyThickL, NAVY, 8);
stroke(ip, imagFallTopL, MAROON, 8);
stroke(ip, imagFallTopL, NAVY, 5);
stroke(ip, imagNavyFall, MAROON, 8);
stroke(ip, imagNavyFall, NAVY, 6);
dots(ip, imagMaroonDotsFall, MAROON, 3.5);
stroke(ip, imagBlueTurn, BLUE, 8);
stroke(ip, imagMaroonFall, MAROON, 7);
stroke(ip, imagBlueThickL, MIDBLUE, 8);
stroke(ip, imagRedThickL, MIDRED, 8);
stroke(ip, imagNavyTopL, NAVY, 8);
stroke(ip, imagMaroonTopL, MAROON, 6.5);

dots(ip, imagNavyDotsTopR, NAVY, 3.8);
dots(ip, imagMaroonDotsTopR, MAROON, 3.8);
dots(ip, imagNavyDotsC, NAVY, 4.3);
dots(ip, imagMaroonDotsC, DOTRED, 3.9);
dots(ip, imagNavyDotsRise, NAVY, 3.8);
dots(ip, imagMaroonDotsRise, DOTRED, 4.3);
dots(ip, imagNavyDotsTurn, NAVY, 4.3);
dots(ip, imagMaroonDotsTurn, MIDRED, 4.7);
stroke(ip, imagNavyThickR, NAVY, 7.5);
stroke(ip, imagMaroonEnd, MAROON, 8);
stroke(ip, imagNavyRise, MIDBLUE, 8);
stroke(ip, imagRedTurn, "#d00000", 8);
stroke(ip, imagNavyLoop, NAVY, 5);
stroke(ip, imagNavyTopR, NAVY, 8);
stroke(ip, imagBlueTopR, MIDBLUE, 8);
stroke(ip, imagRedLoop, "#d00000", 10);
stroke(ip, imagMaroonTopR, MAROON, 8);

stroke(ip, stemNavy, NAVY, 5.5);
stroke(ip, stemRed, "#f00000", 8.5);
stroke(ip, imagBlueRise, BLUE, 8.5);
stroke(ip, ovalRedTop, MIDRED, 10);
stroke(ip, ovalBlueTop, "#0000d0", 10);
stroke(ip, ovalBlueBottom, "#0000d0", 10);
stroke(ip, ovalRedBottom, "#dd0000", 10);

svg.append("line").attr("x1", ip.x(0)).attr("x2", ip.x(0)).attr("y1", ip.y(0.1)).attr("y2", ip.y(0.35))
  .attr("stroke", "#bbb").attr("stroke-width", 2).attr("stroke-dasharray", "2,2");
stroke(ip, greenLeft, "#5cf25c", 2);
stroke(ip, greenRight, "#5cf25c", 2);
dots(ip, imagCircle, "#000", 8.7);
stars(ip, imagStars);

// ---------- insets
function inset(xr, box, oval, thin, thick, labels) {
  const sx = d3.scaleLinear().domain([0, 1080]).range(xr);
  const sy = d3.scaleLinear().domain([0, 990]).range([340, 670]);
  const p = { x: sx, y: sy };
  box.forEach(d => {
    const l = d3.line().x(e => sx(e[0])).y(e => sy(e[1]));
    svg.append("path").attr("d", l(d)).attr("fill", "none").attr("stroke", "#000").attr("stroke-width", 1.4);
  });
  thin.forEach(d => stroke(p, d, NAVY, 6.5));
  oval.forEach(d => stroke(p, d, "#0000dd", 11));
  thick.forEach(d => stroke(p, d, "#0000f0", 11.5));
  labels.forEach(([t, zx, zy, size, cls]) => {
    svg.append("text").attr("x", sx(zx)).attr("y", sy(zy)).attr("text-anchor", "middle")
      .attr("font-size", size).attr("class", cls).text(t);
  });
}
inset([1040, 1400], insetLeftBox, insetLeftOval, insetLeftThin, insetLeftThick,
  [["ω", -6, 477, 40, "greek"], ["κ", 345, 855, 44, "greek"], ["k", 790, 838, 40, ""]]);
inset([1380, 1740], insetRightBox, insetRightOval, insetRightThin, insetRightThick,
  [["ω", 480, 420, 40, "greek"], ["κ", 992, 855, 44, "greek"], ["k", 552, 838, 40, ""]]);

// ---------- frames and labels
frame(realPanel, realKTicks, true);
frame(imagPanel, imagKTicks, false);

function title(x, y, parts, rotate) {
  const t = svg.append("text").attr("text-anchor", "middle").attr("font-size", 37)
    .attr("transform", `translate(${x},${y})` + (rotate ? " rotate(-90)" : ""));
  parts.forEach(([s, greek]) => {
    const sp = t.append("tspan").text(s);
    if (greek) sp.attr("class", "greek").attr("font-size", 39);
  });
}
title(556.5, 35, [["real part"]]);
title(1412, 35, [["imaginary part"]]);
title(556.5, 773, [["ka/(2"], ["π", true], [")"]]);
title(1412, 773, [["κ", true], ["a/(2"], ["π", true], [")"]]);
title(37, 347, [["ω", true], ["a/(2"], ["π", true], ["c)"]], true);
</script>
</body>
</html>
